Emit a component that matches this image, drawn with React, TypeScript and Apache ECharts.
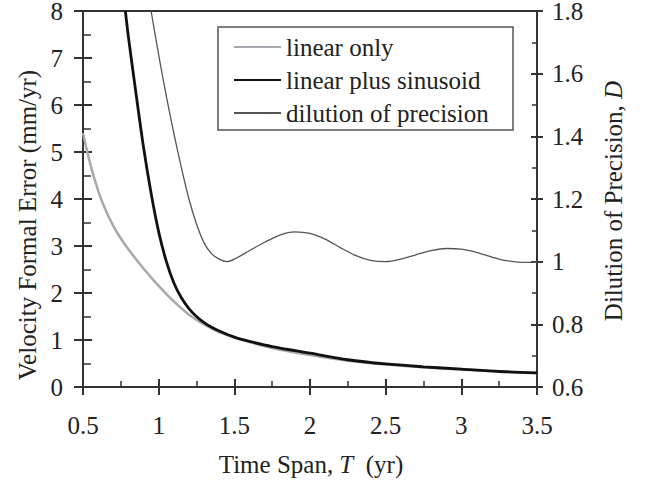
import React, { useEffect, useRef } from 'react';
import * as echarts from 'echarts';

// Time span T (yr)
const T_LINEAR = [0.5, 0.55, 0.6, 0.65, 0.7, 0.75, 0.8, 0.9, 1.0, 1.1, 1.2, 1.3, 1.4, 1.5, 1.75, 2.0, 2.25, 2.5, 2.75, 3.0, 3.25, 3.5];
const ERR_LINEAR = [5.4, 4.72, 4.18, 3.76, 3.43, 3.16, 2.93, 2.52, 2.15, 1.82, 1.54, 1.33, 1.17, 1.05, 0.83, 0.68, 0.56, 0.48, 0.42, 0.37, 0.33, 0.29];

const T_SINUS = [0.78, 0.8, 0.85, 0.9, 0.95, 1.0, 1.05, 1.1, 1.15, 1.2, 1.25, 1.3, 1.35, 1.4, 1.5, 1.6, 1.75, 2.0, 2.25, 2.5, 2.75, 3.0, 3.25, 3.5];
const ERR_SINUS = [8.0, 7.45, 6.25, 5.1, 4.12, 3.3, 2.68, 2.22, 1.9, 1.67, 1.5, 1.37, 1.27, 1.19, 1.06, 0.97, 0.86, 0.72, 0.58, 0.49, 0.43, 0.38, 0.33, 0.3];

const T_DOP = [0.95, 1.0, 1.05, 1.1, 1.15, 1.2, 1.25, 1.3, 1.35, 1.4, 1.45, 1.5, 1.6, 1.7, 1.8, 1.9, 2.0, 2.1, 2.2, 2.3, 2.4, 2.5, 2.6, 2.7, 2.8, 2.9, 3.0, 3.1, 3.2, 3.3, 3.4, 3.5];
const DOP = [1.8, 1.66, 1.53, 1.41, 1.3, 1.2, 1.12, 1.06, 1.025, 1.008, 1.0, 1.008, 1.035, 1.062, 1.085, 1.095, 1.09, 1.072, 1.045, 1.02, 1.004, 1.0, 1.008, 1.022, 1.035, 1.042, 1.04, 1.03, 1.015, 1.003, 0.998, 0.998];

const SERIES_NAMES = ['linear only', 'linear plus sinusoid', 'dilution of precision'];
const X_TITLE = ['Time Span, ', 'T', '  (yr)'];
const Y_LEFT_TITLE = 'Velocity Formal Error (mm/yr)';
const Y_RIGHT_TITLE = ['Dilution of Precision, ', 'D'];

const FONT = "'Liberation Serif', 'DejaVu Serif', serif";
const TXT = '#222';
const AX = '#333';

const zip = (xs: number[], ys: number[]) => xs.map((x, i) => [x, ys[i]]);

export default function App() {
  const ref = useRef<HTMLDivElement>(null);
  useEffect(() => {
    document.body.style.margin = '0';
    const chart = echarts.init(ref.current!, undefined, { renderer: 'svg' });
    const axisLine = { show: true, lineStyle: { color: AX, width: 2 } };
    const label = (margin: number, lineHeight?: number) => ({
      show: true, color: TXT, fontFamily: FONT, fontSize: 25, margin,
      ...(lineHeight ? { lineHeight } : {}),
    });
    const xBase = { type: 'value', min: 0.5, max: 3.5, interval: 0.5, splitLine: { show: false } };
    const yLBase = { type: 'value', min: 0, max: 8, interval: 1, splitLine: { show: false } };
    const yRBase = { type: 'value', min: 0.6, max: 1.8, interval: 0.2, splitLine: { show: false } };
    const option: any = {
      animation: false,
      backgroundColor: '#fff',
      grid: { left: 83, right: 109, top: 11, bottom: 104, containLabel: false, outerBoundsMode: 'none' },
      xAxis: [
        {
          ...xBase, position: 'bottom', axisLine: { ...axisLine, onZero: false },
          axisTick: { show: true, inside: true, length: 8, lineStyle: { color: AX, width: 2 } },
          minorTick: { show: true, splitNumber: 2, length: 6, lineStyle: { color: AX, width: 1.5 } },
          axisLabel: label(26),
        },
        {
          ...xBase, position: 'bottom', axisLine: { show: false, onZero: false },
          axisTick: { show: true, inside: false, length: 8, lineStyle: { color: AX, width: 2 } },
          axisLabel: { show: false },
        },
        {
          ...xBase, position: 'top', axisLine: { ...axisLine, onZero: false },
          axisTick: { show: false }, axisLabel: { show: false },
        },
      ],
      yAxis: [
        {
          ...yLBase, position: 'left', axisLine: { ...axisLine, onZero: false },
          axisTick: { show: true, inside: true, length: 9, lineStyle: { color: AX, width: 2 } },
          minorTick: { show: true, splitNumber: 2, length: 8, lineStyle: { color: AX, width: 1.5 } },
          axisLabel: label(20, 20),
        },
        {
          ...yLBase, position: 'left', axisLine: { show: false, onZero: false },
          axisTick: { show: true, inside: false, length: 9, lineStyle: { color: AX, width: 2 } },
          axisLabel: { show: false },
        },
        {
          ...yRBase, position: 'right', axisLine: { ...axisLine, onZero: false },
          axisTick: { show: true, inside: true, length: 6, lineStyle: { color: AX, width: 2 } },
          minorTick: { show: true, splitNumber: 2, length: 5, lineStyle: { color: AX, width: 1.5 } },
          axisLabel: label(15, 20),
        },
        {
          ...yRBase, position: 'right', axisLine: { show: false, onZero: false },
          axisTick: { show: true, inside: false, length: 6, lineStyle: { color: AX, width: 2 } },
          axisLabel: { show: false },
        },
      ],
      legend: {
        orient: 'vertical',
        left: 218,
        top: 27,
        padding: [7, 15, 4, 15],
        itemGap: 7,
        itemWidth: 47,
        itemHeight: 14,
        borderColor: '#555',
        borderWidth: 1.5,
        backgroundColor: '#fff',
        itemStyle: { opacity: 0, color: 'transparent', borderColor: 'transparent', borderWidth: 0 },
        data: SERIES_NAMES,
        textStyle: { color: TXT, fontFamily: FONT, fontSize: 25, lineHeight: 26, width: 212 },
      },
      graphic: [
        {
          type: 'text', x: 27, y: 225, rotation: Math.PI / 2,
          style: {
            text: Y_LEFT_TITLE, font: `25px ${FONT}`, fill: TXT,
            align: 'center', verticalAlign: 'middle', textAlign: 'center', textVerticalAlign: 'middle',
          },
        },
        {
          type: 'text', x: 311, y: 464,
          style: {
            text: `{a|${X_TITLE[0]}}{i|${X_TITLE[1]}}{a|${X_TITLE[2]}}`,
            rich: {
              a: { fontFamily: FONT, fontSize: 25, fill: TXT, color: TXT },
              i: { fontFamily: FONT, fontSize: 25, fontStyle: 'italic', fill: TXT, color: TXT },
            },
            fill: TXT,
            align: 'center', verticalAlign: 'middle', textAlign: 'center', textVerticalAlign: 'middle',
          },
        },
        {
          type: 'text', x: 613, y: 201, rotation: Math.PI / 2,
          style: {
            text: `{a|${Y_RIGHT_TITLE[0]}}{i|${Y_RIGHT_TITLE[1]}}`,
            rich: {
              a: { fontFamily: FONT, fontSize: 25, fill: TXT, color: TXT },
              i: { fontFamily: FONT, fontSize: 25, fontStyle: 'italic', fill: TXT, color: TXT },
            },
            fill: TXT,
            align: 'center', verticalAlign: 'middle', textAlign: 'center', textVerticalAlign: 'middle',
          },
        },
      ],
      series: [
        {
          name: SERIES_NAMES[0], type: 'line', xAxisIndex: 0, yAxisIndex: 0,
          data: zip(T_LINEAR, ERR_LINEAR), symbol: 'none', smooth: 0.3,
          lineStyle: { color: '#a6a9ae', width: 2.5 }, itemStyle: { color: '#a6a9ae' }, z: 2,
        },
        {
          name: SERIES_NAMES[1], type: 'line', xAxisIndex: 0, yAxisIndex: 0,
          data: zip(T_SINUS, ERR_SINUS), symbol: 'none', smooth: 0.3,
          lineStyle: { color: '#111', width: 2.8 }, itemStyle: { color: '#111' }, z: 3,
        },
        {
          name: SERIES_NAMES[2], type: 'line', xAxisIndex: 0, yAxisIndex: 2,
          data: zip(T_DOP, DOP), symbol: 'none', smooth: 0.3,
          lineStyle: { color: '#555', width: 1.3 }, itemStyle: { color: '#555' }, z: 2,
        },
      ],
    };
    chart.setOption(option);
    return () => chart.dispose();
  }, []);
  return <div ref={ref} style={{ position: 'absolute', left: 0, top: 0, width: 646, height: 491 }} />;
}
